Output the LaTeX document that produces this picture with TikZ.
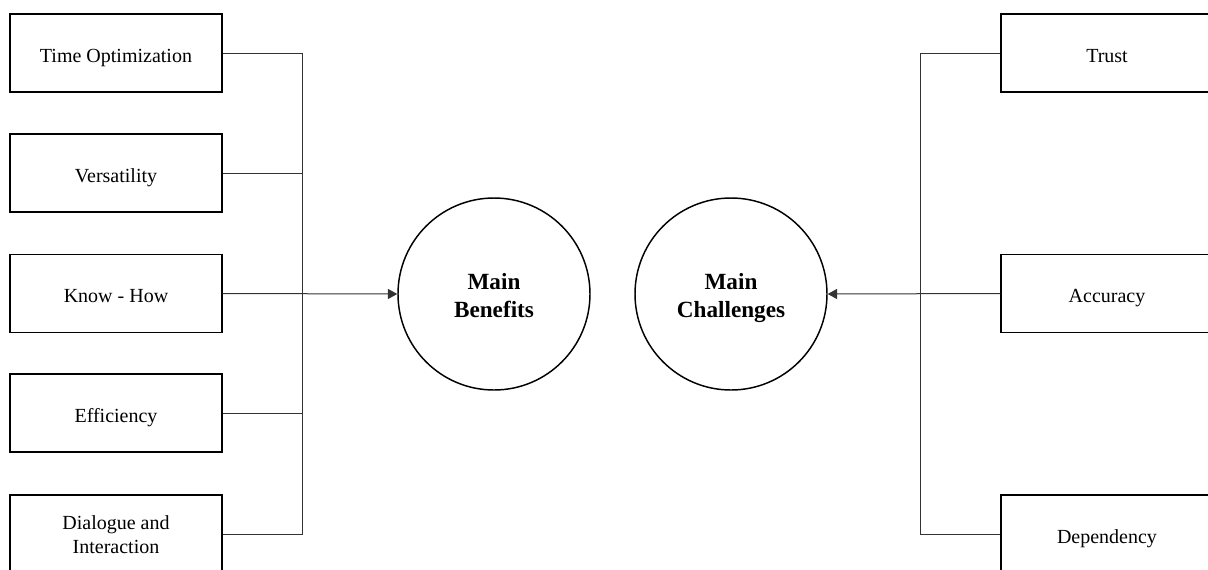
\documentclass[tikz,border=0pt]{standalone}
\usepackage{fontspec}
\setmainfont{Liberation Serif}
\usetikzlibrary{arrows.meta}
\tikzset{
  itembox/.style={draw=black, line width=1.1pt, minimum width=159pt, minimum height=58.5pt, inner sep=0pt, align=center, font=\fontsize{15}{18}\selectfont, text height=16.5pt, text depth=3pt},
  itembox2/.style={itembox, text height=28.5pt, text depth=0pt},
  hub/.style={draw=black, line width=1.1pt, circle, minimum size=144pt, inner sep=0pt, align=center, font=\fontsize{17.4}{21}\selectfont\bfseries, text height=34.5pt, text depth=0pt},
  link/.style={draw=black!80, line width=0.75pt},
  arr/.style={link, -{Triangle[length=7pt,width=7.5pt]}}
}
\begin{document}
\begin{tikzpicture}[x=0.75pt,y=-0.75pt]
\useasboundingbox (0,0) rectangle (1208,569);
\clip (0,0) rectangle (1208,569);
% left boxes
\node[itembox] (time) at (116,53) {Time Optimization};
\node[itembox] (vers) at (116,173) {Versatility};
\node[itembox] (know) at (116,293.5) {Know - How};
\node[itembox] (eff) at (116,413) {Efficiency};
\node[itembox2] (dia) at (116,534) {Dialogue and\\Interaction};
% circles
\node[hub] (ben) at (494,294) {Main\\Benefits};
\node[hub] (cha) at (731,294) {Main\\Challenges};
% right boxes
\node[itembox] (trust) at (1107,53) {Trust};
\node[itembox] (acc) at (1107,293.5) {Accuracy};
\node[itembox] (dep) at (1107,534) {Dependency};
% coordinates
\coordinate (lt) at (302,53);
\coordinate (lb) at (302,534);
\coordinate (rt) at (920.5,53);
\coordinate (rb) at (920.5,534);
% left connectors
\draw[link] (time.east) -- (lt) -- (lb) -- (dia.east);
\draw[link] (vers.east) -- (vers.east -| lt);
\draw[link] (eff.east) -- (eff.east -| lt);
\draw[arr] (know.east) -- (ben.west);
% right connectors
\draw[link] (trust.west) -- (rt) -- (rb) -- (dep.west);
\draw[arr] (acc.west) -- (cha.east);
\end{tikzpicture}
\end{document}
